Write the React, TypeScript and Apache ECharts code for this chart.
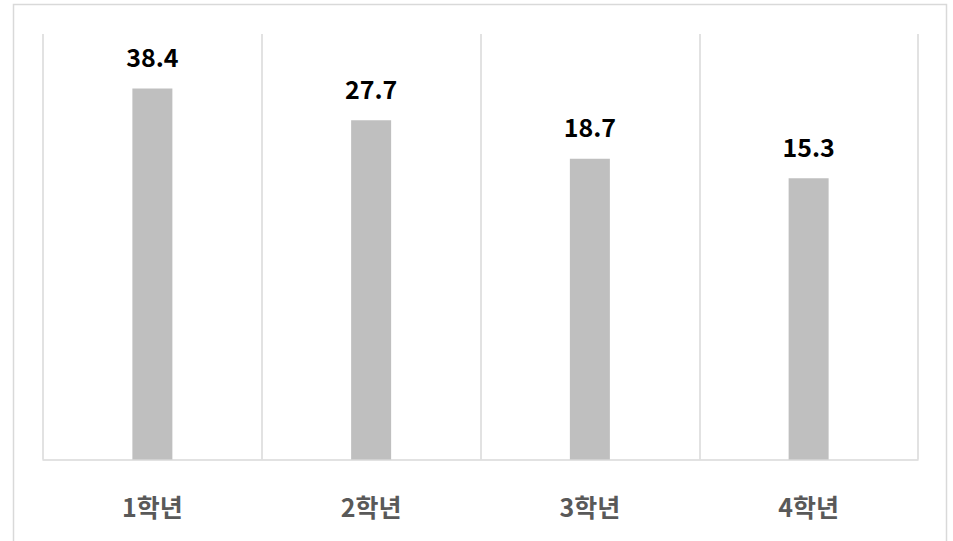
import React, { useEffect, useRef } from "react";
import * as echarts from "echarts";

const categories = ["1학년", "2학년", "3학년", "4학년"];
const values = [38.4, 27.7, 18.7, 15.3];

export default function App() {
  const ref = useRef<HTMLDivElement>(null);
  useEffect(() => {
    if (!ref.current) return;
    const chart = echarts.init(ref.current, null, { renderer: "svg" });
    chart.setOption({
      animation: false,
      backgroundColor: "#ffffff",
      textStyle: { fontFamily: "'Noto Sans CJK KR', 'Noto Sans', sans-serif" },
      graphic: [
        {
          type: "rect",
          shape: { x: 13.5, y: 4.5, width: 933, height: 560 },
          style: { fill: "none", stroke: "#d9d9d9", lineWidth: 1.5 },
          silent: true,
          z: -10,
        },
      ],
      grid: { left: 43, right: 35, top: 34, bottom: 81.5 },
      xAxis: {
        type: "category",
        data: categories,
        axisLine: { show: true, lineStyle: { color: "#d9d9d9", width: 1.5 } },
        axisTick: { show: false },
        splitLine: { show: true, lineStyle: { color: "#d9d9d9", width: 1.5 } },
        axisLabel: {
          margin: 34,
          color: "#595959",
          fontSize: 25,
          fontWeight: "bold",
          fontFamily: "'Noto Sans CJK KR', sans-serif",
        },
      },
      yAxis: {
        type: "log",
        min: 0.86,
        max: 67,
        startValue: 0.86,
        axisLine: { show: false },
        axisTick: { show: false },
        axisLabel: { show: false },
        splitLine: { show: false },
      },
      series: [
        {
          type: "bar",
          data: values,
          barWidth: 40,
          itemStyle: { color: "#bfbfbf" },
          label: {
            show: true,
            position: "top",
            distance: 20,
            color: "#000000",
            fontSize: 25,
            fontWeight: "bold",
            fontFamily: "'Noto Sans CJK KR', sans-serif",
            formatter: (p: any) => p.value.toFixed(1),
          },
        },
      ],
    });
    return () => chart.dispose();
  }, []);
  return (
    <div
      ref={ref}
      style={{ position: "fixed", left: 0, top: 0, width: 953, height: 541 }}
    />
  );
}
